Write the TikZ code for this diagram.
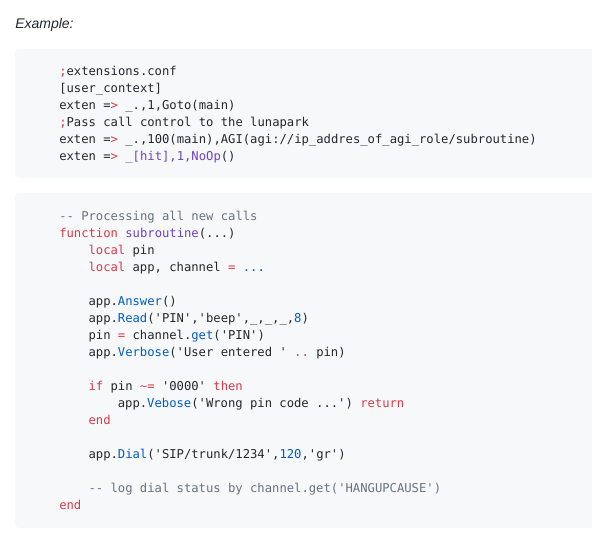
\documentclass[tikz,border=0pt]{standalone}
\usepackage{fontspec}
\setmainfont{Liberation Sans}
\setmonofont{DejaVu Sans Mono}
\definecolor{codetext}{HTML}{24292E}
\definecolor{kwred}{HTML}{D73A49}
\definecolor{fnpurple}{HTML}{6F42C1}
\definecolor{numblue}{HTML}{005CC5}
\definecolor{cmgray}{HTML}{6A737D}
\definecolor{boxbg}{HTML}{F6F8FA}
\newcommand\Kr[1]{\textcolor{kwred}{#1}}
\newcommand\Kp[1]{\textcolor{fnpurple}{#1}}
\newcommand\Kb[1]{\textcolor{numblue}{#1}}
\newcommand\Kg[1]{\textcolor{cmgray}{#1}}
\begin{document}
\begin{tikzpicture}[x=0.75pt,y=-0.75pt,
  codeline/.style={anchor=base west, inner sep=0pt, font=\ttfamily\fontsize{9.15}{11}\selectfont, text=codetext},
  codebox/.style={fill=boxbg, draw=none, rounded corners=3pt}]
\useasboundingbox (0,0) rectangle (592,553);
\fill[white] (0,0) rectangle (592,553);
\node[anchor=base west, inner sep=0pt, font=\itshape\fontsize{10.5}{12}\selectfont, text=codetext] (title) at (15,28) {Example:};
% first code box
\path[codebox] (15,49) rectangle (600,178);
\node[codeline] (a1) at (59,75) {\Kr{;}extensions.conf};
\node[codeline] (a2) at (59,92) {[user\_context]};
\node[codeline] (a3) at (59,109) {exten =\Kr{>} \_.,1,Goto(main)};
\node[codeline] (a4) at (59,126) {\Kr{;}Pass call control to the lunapark};
\node[codeline] (a5) at (59,143) {exten =\Kr{>} \_.,100(main),AGI(agi://ip\_addres\_of\_agi\_role/subroutine)};
\node[codeline] (a6) at (59,160) {exten =\Kr{>} \Kp{\_[hit],1,NoOp}()};
% second code box
\path[codebox] (15,193) rectangle (600,528);
\node[codeline] (b1) at (59,220) {\Kg{-- Processing all new calls}};
\node[codeline] (b2) at (59,237) {\Kr{function} \Kp{subroutine}(...)};
\node[codeline] (b3) at (88.3,254) {\Kr{local} pin};
\node[codeline] (b4) at (88.3,271) {\Kr{local} app, channel \Kr{=} \Kb{...}};
\node[codeline] (b5) at (88.3,305) {app.\Kb{Answer}()};
\node[codeline] (b6) at (88.3,322) {app.\Kb{Read}('PIN','beep',\_,\_,\_,\Kb{8})};
\node[codeline] (b7) at (88.3,339) {pin \Kr{=} channel.\Kb{get}('PIN')};
\node[codeline] (b8) at (88.3,356) {app.\Kb{Verbose}('User entered ' \Kr{..} pin)};
\node[codeline] (b9) at (88.3,390) {\Kr{if} pin \Kr{\textasciitilde=} '0000' \Kr{then}};
\node[codeline] (b10) at (117.6,407) {app.\Kb{Vebose}('Wrong pin code ...') \Kr{return}};
\node[codeline] (b11) at (88.3,424) {\Kr{end}};
\node[codeline] (b12) at (88.3,458) {app.\Kb{Dial}('SIP/trunk/1234',\Kb{120},'gr')};
\node[codeline] (b13) at (88.3,492) {\Kg{-- log dial status by channel.get('HANGUPCAUSE')}};
\node[codeline] (b14) at (59,509) {\Kr{end}};
\end{tikzpicture}
\end{document}
